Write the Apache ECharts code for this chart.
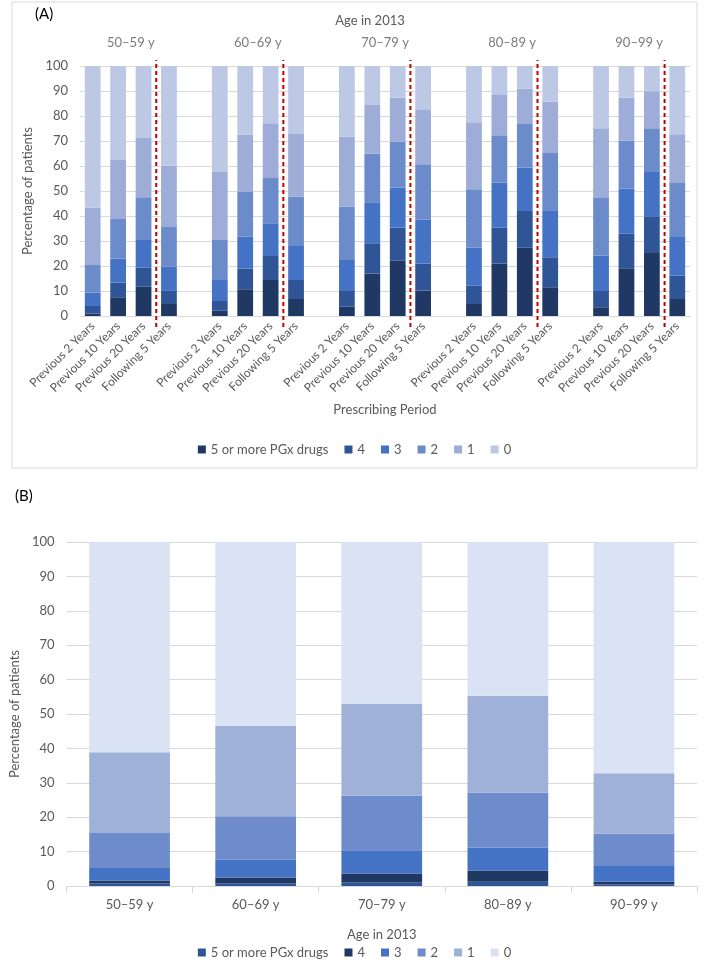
<!DOCTYPE html>
<html><head><meta charset="utf-8">
<script src="https://cdn.jsdelivr.net/npm/echarts@6/dist/echarts.min.js"></script>
<style>
html,body{margin:0;padding:0;background:#fff;}
#a{position:absolute;left:0;top:0;width:709px;height:478px;}
#b{position:absolute;left:0;top:478px;width:709px;height:490px;}
</style></head>
<body>
<div id="a"></div><div id="b"></div>
<script>
const FONT = 'Lato';
const TXT = '#595959';
const GRID = '#d9d9d9';

// ---------- Panel A data ----------
const groupsA = ['50–59 y', '60–69 y', '70–79 y', '80–89 y', '90–99 y'];
const periodsA = ['Previous 2 Years', 'Previous 10 Years', 'Previous 20 Years', 'Following 5 Years'];
const seriesNames = ['5 or more PGx drugs', '4', '3', '2', '1', '0'];
// values: group-major, 4 periods per group
const a5 = [1.0, 7.5, 11.7, 4.8,   2.1, 10.7, 14.4, 6.8,   3.7, 17.0, 22.1, 10.2,  4.8, 21.0, 27.3, 11.5,  3.5, 19.1, 25.2, 6.8];
const a4 = [3.0, 5.9, 7.6, 5.5,    3.9, 8.3, 9.6, 7.6,     6.3, 12.1, 13.3, 10.8,  7.3, 14.3, 14.7, 12.0,  6.5, 13.8, 14.7, 9.3];
const a3 = [5.3, 9.6, 11.1, 9.4,   8.4, 12.7, 13.1, 13.6,  12.4, 16.4, 16.0, 17.5, 15.2, 18.0, 17.3, 18.8, 14.1, 18.0, 17.7, 15.5];
const a2 = [11.1, 15.8, 17.1, 15.9, 16.0, 17.9, 18.1, 19.7, 21.3, 19.4, 18.3, 22.2, 23.4, 19.0, 17.5, 22.9, 23.1, 19.2, 17.5, 21.6];
const a1 = [22.9, 23.6, 23.7, 24.5, 27.2, 22.9, 21.9, 25.1, 28.0, 19.5, 17.6, 22.0, 26.8, 16.4, 14.2, 20.5, 27.9, 17.2, 14.8, 19.5];
const a0 = [56.7, 37.6, 28.8, 39.9, 42.4, 27.5, 22.9, 27.2, 28.3, 15.6, 12.7, 17.3, 22.5, 11.3, 9.0, 14.3, 24.9, 12.7, 10.1, 27.3];
const colorsA = ['#203864', '#2F5597', '#4472C4', '#6C8BCB', '#9DADD8', '#BDC8E5'];

// ---------- Panel B data ----------
const groupsB = ['50–59 y', '60–69 y', '70–79 y', '80–89 y', '90–99 y'];
const b5 = [0.7, 0.7, 1.1, 1.2, 0.4];
const b4 = [0.9, 1.8, 2.5, 3.3, 0.8];
const b3 = [3.6, 5.1, 6.8, 6.6, 4.6];
const b2 = [10.2, 12.7, 15.8, 16.1, 9.4];
const b1 = [23.5, 26.3, 26.7, 28.1, 17.6];
const b0 = [61.1, 53.4, 47.1, 44.7, 67.2];
const colorsB = ['#2F5597', '#1F3864', '#4472C4', '#6E8CCB', '#9FB0D9', '#DAE3F3'];

// ---------- Build Panel A ----------
const nPer = periodsA.length;
const slotsPerGroup = nPer + 1;
const catsA = [];
groupsA.forEach((g, gi) => {
  periodsA.forEach(p => catsA.push(p));
  if (gi < groupsA.length - 1) catsA.push('');
});
function spread(arr) {
  const out = [];
  groupsA.forEach((g, gi) => {
    for (let i = 0; i < nPer; i++) out.push(arr[gi * nPer + i]);
    if (gi < groupsA.length - 1) out.push(null);
  });
  return out;
}
const dataA = [a5, a4, a3, a2, a1, a0];
const nSlots = catsA.length;

const chartA = echarts.init(document.getElementById('a'));
const seriesA = dataA.map((d, i) => ({
  name: seriesNames[i], type: 'bar', stack: 'a', data: spread(d),
  barWidth: '62%', itemStyle: { color: colorsA[i] }, xAxisIndex: 0, yAxisIndex: 0
}));
// red dividers between 3rd and 4th bar of each group
groupsA.forEach((g, gi) => {
  const x = gi * slotsPerGroup + 3;
  seriesA.push({
    type: 'line', xAxisIndex: 1, yAxisIndex: 1, symbol: 'none', silent: true,
    data: [[x, 0], [x, 0.94]],
    lineStyle: { color: '#C00000', width: 2, type: [4, 3] }
  });
});
// group labels on top
seriesA.push({
  type: 'scatter', xAxisIndex: 1, yAxisIndex: 1, symbolSize: 0, silent: true,
  data: groupsA.map((g, gi) => ({ value: [gi * slotsPerGroup + (nPer / 2), 1], name: g })),
  label: { show: true, position: 'inside', formatter: p => p.name, color: TXT, fontFamily: FONT, fontSize: 13 },
  clip: false
});

chartA.setOption({
  animation: false,
  textStyle: { fontFamily: FONT },
  graphic: [{ type: 'rect', shape: { x: 12, y: 2, width: 685, height: 466 }, style: { fill: 'none', stroke: '#d9d9d9', lineWidth: 1 }, silent: true }],
  title: [
    { text: '(A)', left: 30, top: 2, textStyle: { fontFamily: FONT, fontSize: 15, fontWeight: 'normal', color: '#000' } },
    { text: 'Age in 2013', left: 365, top: 9, textAlign: 'center', textStyle: { fontFamily: FONT, fontSize: 13, fontWeight: 'normal', color: TXT } }
  ],
  legend: {
    data: seriesNames, bottom: 17, left: 'center', icon: 'rect', itemWidth: 8, itemHeight: 8, itemGap: 16,
    textStyle: { fontFamily: FONT, fontSize: 13, color: TXT }
  },
  grid: [
    { left: 80, right: 19, top: 66, height: 250 },
    { left: 80, right: 19, top: 43, height: 284 }
  ],
  xAxis: [
    {
      type: 'category', data: catsA, gridIndex: 0,
      axisLine: { lineStyle: { color: GRID } }, axisTick: { show: false },
      axisLabel: { rotate: 45, interval: 0, fontSize: 12, color: TXT, fontFamily: FONT, margin: 8 },
      name: 'Prescribing Period', nameLocation: 'middle', nameGap: 87,
      nameTextStyle: { fontSize: 13, color: TXT, fontFamily: FONT }
    },
    { type: 'value', gridIndex: 1, min: 0, max: nSlots, show: false }
  ],
  yAxis: [
    {
      type: 'value', gridIndex: 0, min: 0, max: 100, interval: 10,
      axisLabel: { fontSize: 13, color: TXT, fontFamily: FONT, margin: 12 },
      splitLine: { lineStyle: { color: GRID } }, axisLine: { show: false }, axisTick: { show: false },
      name: 'Percentage of patients', nameLocation: 'middle', nameGap: 42,
      nameTextStyle: { fontSize: 13, color: TXT, fontFamily: FONT }
    },
    { type: 'value', gridIndex: 1, min: 0, max: 1, show: false }
  ],
  series: seriesA
});

// ---------- Build Panel B ----------
const chartB = echarts.init(document.getElementById('b'));
const dataB = [b5, b4, b3, b2, b1, b0];
chartB.setOption({
  animation: false,
  textStyle: { fontFamily: FONT },
  title: { text: '(B)', left: 10, top: 6, textStyle: { fontFamily: FONT, fontSize: 15, fontWeight: 'normal', color: '#000' } },
  legend: {
    data: seriesNames, bottom: 4, left: 'center', icon: 'rect', itemWidth: 8, itemHeight: 8, itemGap: 16,
    textStyle: { fontFamily: FONT, fontSize: 13, color: TXT }
  },
  grid: { left: 60, right: 12, top: 64, height: 344 },
  xAxis: {
    type: 'category', data: groupsB,
    axisLine: { lineStyle: { color: GRID } },
    axisTick: { show: true, length: 7, lineStyle: { color: GRID } },
    axisLabel: { fontSize: 13, color: TXT, fontFamily: FONT, margin: 12 },
    name: 'Age in 2013', nameLocation: 'middle', nameGap: 42,
    nameTextStyle: { fontSize: 13, color: TXT, fontFamily: FONT }
  },
  yAxis: {
    type: 'value', min: 0, max: 100, interval: 10,
    axisLabel: { fontSize: 13, color: TXT, fontFamily: FONT, margin: 12 },
    splitLine: { lineStyle: { color: GRID } }, axisLine: { show: false }, axisTick: { show: false },
    name: 'Percentage of patients', nameLocation: 'middle', nameGap: 40,
    nameTextStyle: { fontSize: 13, color: TXT, fontFamily: FONT }
  },
  series: dataB.map((d, i) => ({
    name: seriesNames[i], type: 'bar', stack: 'b', data: d, barWidth: '64%',
    itemStyle: { color: colorsB[i] }
  }))
});
</script>
</body></html>
